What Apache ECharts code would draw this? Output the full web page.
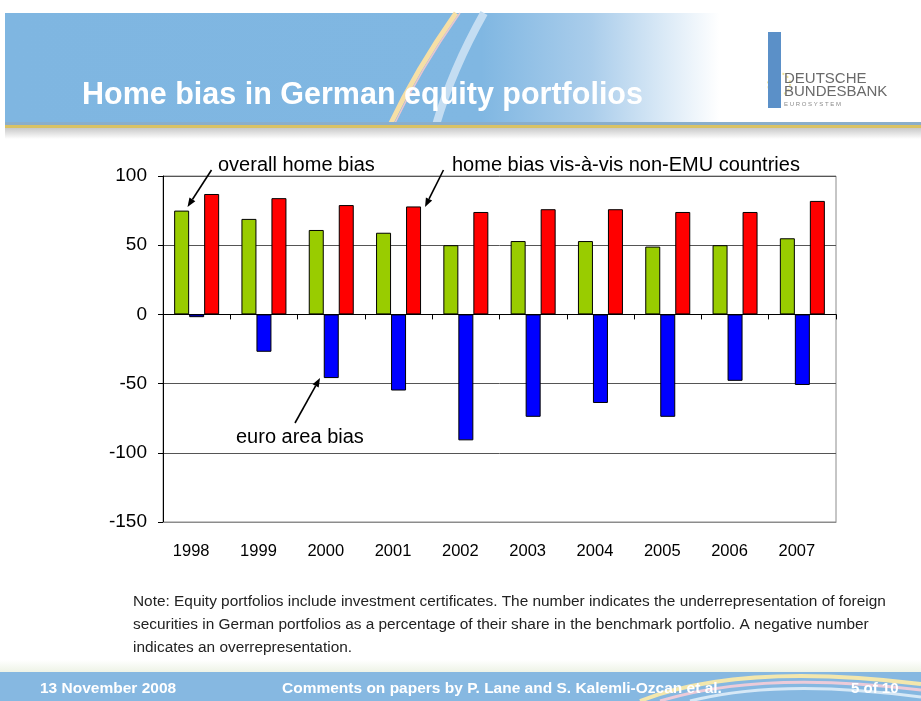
<!DOCTYPE html>
<html>
<head>
<meta charset="utf-8">
<script src="https://cdn.jsdelivr.net/npm/echarts@6/dist/echarts.min.js"></script>
<style>
    html, body { margin: 0; padding: 0; background: #fff; }
    #main { width: 921px; height: 701px; }
</style>
</head>
<body>
<div id="main"></div>
<script>
// years and the three bias series (per cent)
var years = ['1998', '1999', '2000', '2001', '2002', '2003', '2004', '2005', '2006', '2007'];
var overallBias = [75, 69, 61, 59, 50, 53, 53, 49, 50, 55];
var euroAreaBias = [-2, -27, -46, -55, -91, -74, -64, -74, -48, -51];
var nonEmuBias = [87, 84, 79, 78, 74, 76, 76, 74, 74, 82];
var yTicks = [-150, -100, -50, 0, 50, 100];

var chart = echarts.init(document.getElementById('main'));
var font = 'Arial, "Liberation Sans", sans-serif';

// little helper: line + filled head
function arrow(x1, y1, x2, y2) {
    var dx = x2 - x1, dy = y2 - y1;
    var len = Math.sqrt(dx * dx + dy * dy);
    var ux = dx / len, uy = dy / len;
    var bx = x2 - ux * 9, by = y2 - uy * 9;
    var px = -uy * 3.5, py = ux * 3.5;
    return [{
        type: 'line', z: 10,
        shape: {x1: x1, y1: y1, x2: bx, y2: by},
        style: {stroke: '#000', lineWidth: 1.6}
    }, {
        type: 'polygon', z: 10,
        shape: {points: [[x2, y2], [bx + px, by + py], [bx - px, by - py]]},
        style: {fill: '#000'}
    }];
}

var graphics = [
    // header band
    {type: 'rect', z: -10, shape: {x: 5, y: 13, width: 916, height: 112},
        style: {fill: new echarts.graphic.LinearGradient(0, 0, 1, 0, [
            {offset: 0, color: '#7fb6e1'},
            {offset: 0.52, color: '#80b7e2'},
            {offset: 0.64, color: '#aacdeb'},
            {offset: 0.78, color: '#ffffff'},
            {offset: 1, color: '#ffffff'}
        ])}},
    {type: 'bezierCurve', z: -9, shape: {x1: 390, y1: 125, cpx1: 416, cpy1: 70, x2: 456, y2: 13},
        style: {stroke: '#f6dfa6', lineWidth: 5, fill: null}},
    {type: 'bezierCurve', z: -9, shape: {x1: 394, y1: 125, cpx1: 420, cpy1: 70, x2: 460, y2: 13},
        style: {stroke: '#e9c6cf', lineWidth: 1.5, fill: null}},
    {type: 'bezierCurve', z: -9, shape: {x1: 436, y1: 125, cpx1: 452, cpy1: 70, x2: 484, y2: 13},
        style: {stroke: '#c4ddf2', lineWidth: 8, fill: null}},
    {type: 'rect', z: -8, shape: {x: 5, y: 122, width: 916, height: 3},
        style: {fill: '#8aaecb'}},
    {type: 'rect', z: -8, shape: {x: 5, y: 125, width: 916, height: 3},
        style: {fill: '#d9c264'}},
    {type: 'rect', z: -8, shape: {x: 5, y: 128, width: 916, height: 11},
        style: {fill: new echarts.graphic.LinearGradient(0, 0, 0, 1, [
            {offset: 0, color: '#c9c9c9'},
            {offset: 1, color: '#ffffff'}
        ])}},
    {type: 'text', z: 5, left: 82, top: 80,
        style: {text: 'Home bias in German equity portfolios', fill: '#fff',
            font: 'bold 30.5px ' + font}},
    // logo
    {type: 'circle', z: -7, shape: {cx: 779, cy: 84, r: 11},
        style: {fill: null, stroke: '#efe39a', lineWidth: 2, lineDash: [2, 3]}},
    {type: 'rect', z: -6, shape: {x: 768, y: 32, width: 13, height: 76},
        style: {fill: '#5b90c8'}},
    {type: 'text', z: -5, left: 784, top: 71,
        style: {text: 'DEUTSCHE', fill: '#6a6a6a', font: '15px ' + font}},
    {type: 'text', z: -5, left: 784, top: 84,
        style: {text: 'BUNDESBANK', fill: '#6a6a6a', font: '15px ' + font}},
    {type: 'text', z: -5, left: 784, top: 101,
        style: {text: 'E U R O S Y S T E M', fill: '#8a8a8a', font: '6px ' + font}},

    // note under the chart
    {type: 'text', z: 5, left: 133, top: 590,
        style: {text: 'Note: Equity portfolios include investment certificates. The number indicates the underrepresentation of foreign\n' +
            'securities in German portfolios as a percentage of their share in the benchmark portfolio. A negative number\n' +
            'indicates an overrepresentation.',
            fill: '#222', font: '15.4px ' + font, lineHeight: 23}},

    // footer
    {type: 'rect', z: -10, shape: {x: 0, y: 660, width: 921, height: 12},
        style: {fill: new echarts.graphic.LinearGradient(0, 0, 0, 1, [
            {offset: 0, color: '#ffffff'},
            {offset: 1, color: '#eef3e6'}
        ])}},
    {type: 'rect', z: -10, shape: {x: 0, y: 672, width: 921, height: 29},
        style: {fill: '#86b8e1'}},
    {type: 'bezierCurve', z: -9, shape: {x1: 640, y1: 701, cpx1: 740, cpy1: 662, x2: 921, y2: 684},
        style: {stroke: '#f3e7ad', lineWidth: 4, fill: null}},
    {type: 'bezierCurve', z: -9, shape: {x1: 660, y1: 701, cpx1: 760, cpy1: 670, x2: 921, y2: 690},
        style: {stroke: '#eccbd9', lineWidth: 3, fill: null}},
    {type: 'bezierCurve', z: -9, shape: {x1: 690, y1: 701, cpx1: 780, cpy1: 678, x2: 921, y2: 697},
        style: {stroke: '#d6e8f6', lineWidth: 3, fill: null}},
    {type: 'text', z: 5, left: 40, top: 681,
        style: {text: '13 November 2008', fill: '#fff', font: 'bold 15.5px ' + font}},
    {type: 'text', z: 5, left: 282, top: 681,
        style: {text: 'Comments on papers by P. Lane and S. Kalemli-Ozcan et al.', fill: '#fff', font: 'bold 15.5px ' + font}},
    {type: 'text', z: 5, left: 851, top: 681,
        style: {text: '5 of 10', fill: '#fff', font: 'bold 15px ' + font}},

    // chart annotations
    {type: 'text', z: 10, left: 218, top: 155,
        style: {text: 'overall home bias', fill: '#000', font: '20px ' + font}},
    {type: 'text', z: 10, left: 452, top: 155,
        style: {text: 'home bias vis-à-vis non-EMU countries', fill: '#000', font: '20px ' + font}},
    {type: 'text', z: 10, left: 236, top: 427,
        style: {text: 'euro area bias', fill: '#000', font: '20px ' + font}}
];
graphics = graphics.concat(arrow(211.5, 170, 187.5, 207));
graphics = graphics.concat(arrow(443.5, 170, 425, 207));
graphics = graphics.concat(arrow(295, 423, 320, 378));

var barStyle = function (color) {
    return {color: color, borderColor: '#000', borderWidth: 1};
};

var option = {
    animation: false,
    backgroundColor: '#fff',
    textStyle: {fontFamily: font},
    grid: {
        left: 163, right: 85, top: 176, bottom: 179,
        show: true, borderColor: '#8c8c8c', borderWidth: 1
    },
    xAxis: [{
        type: 'category',
        data: years,
        position: 'bottom',
        axisLine: {onZero: false, lineStyle: {color: '#8c8c8c'}},
        axisTick: {show: false},
        axisLabel: {color: '#000', fontSize: 16.5, margin: 21, padding: [0, 11, 0, 0]}
    }, {
        type: 'category',
        data: years,
        position: 'bottom',
        axisLine: {onZero: true, lineStyle: {color: '#000', width: 1}},
        axisTick: {show: true, length: 5, lineStyle: {color: '#000'}},
        axisLabel: {show: false}
    }],
    yAxis: {
        type: 'value',
        min: yTicks[0],
        max: yTicks[yTicks.length - 1],
        interval: 50,
        axisLine: {show: true, lineStyle: {color: '#000'}},
        axisTick: {show: true, length: 5, lineStyle: {color: '#000'}},
        axisLabel: {color: '#000', fontSize: 19, margin: 16},
        splitLine: {show: true, lineStyle: {color: '#555'}}
    },
    series: [{
        name: 'overall home bias',
        type: 'bar',
        xAxisIndex: 0,
        barWidth: 15,
        barGap: '0%',
        data: overallBias,
        itemStyle: barStyle('#99cc00')
    }, {
        name: 'euro area bias',
        type: 'bar',
        xAxisIndex: 0,
        barWidth: 15,
        barGap: '0%',
        data: euroAreaBias,
        itemStyle: barStyle('#0000ff')
    }, {
        name: 'home bias vis-à-vis non-EMU countries',
        type: 'bar',
        xAxisIndex: 0,
        barWidth: 15,
        barGap: '0%',
        data: nonEmuBias,
        itemStyle: barStyle('#ff0000')
    }],
    graphic: graphics
};

chart.setOption(option);
window.addEventListener('resize', function () {
    chart.resize();
});
</script>
</body>
</html>
